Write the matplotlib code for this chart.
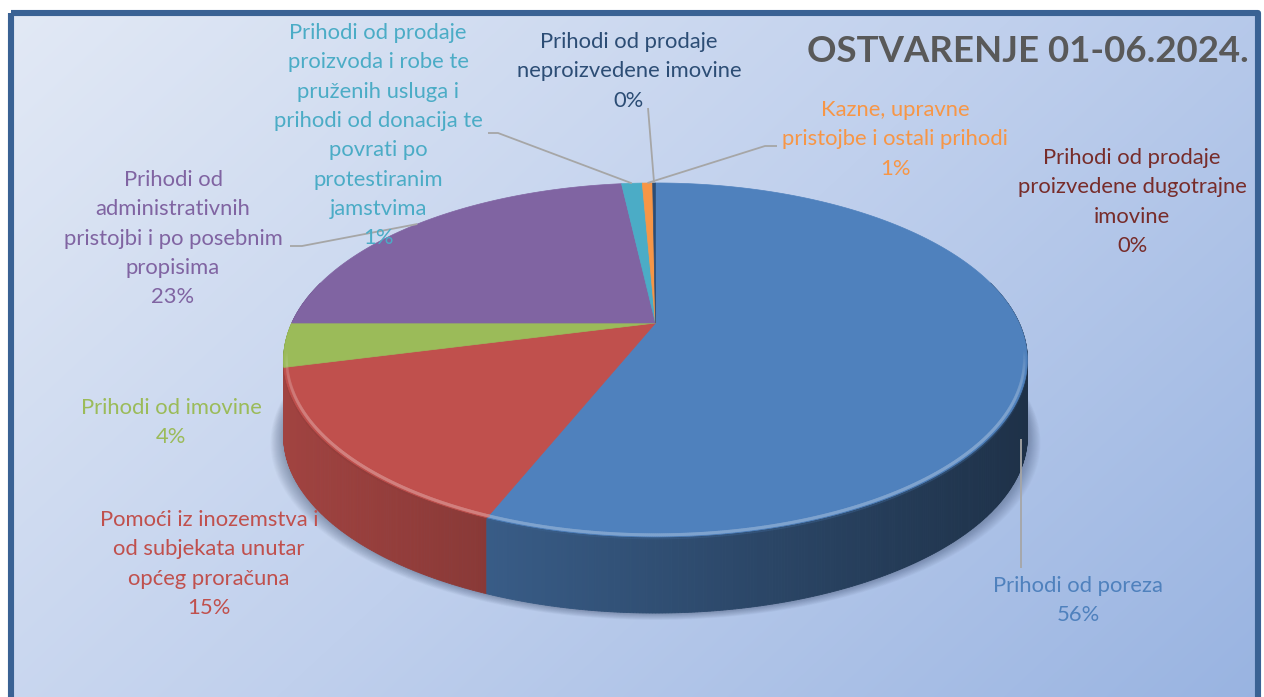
import numpy as np
import matplotlib
matplotlib.use("Agg")
import matplotlib.pyplot as plt
from matplotlib.patches import Polygon, Rectangle
from matplotlib.collections import LineCollection
from matplotlib.colors import to_rgb

# ---------------- data ----------------
categories = [
    "Prihodi od poreza",
    "Pomoći iz inozemstva i od subjekata unutar općeg proračuna",
    "Prihodi od imovine",
    "Prihodi od administrativnih pristojbi i po posebnim propisima",
    "Prihodi od prodaje proizvoda i robe te pruženih usluga i prihodi od donacija te povrati po protestiranim jamstvima",
    "Kazne, upravne pristojbe i ostali prihodi",
    "Prihodi od prodaje neproizvedene imovine",
    "Prihodi od prodaje proizvedene dugotrajne imovine",
]
values = [56.1, 14.9, 4.0, 23.2, 1.1, 0.55, 0.15, 0.0]
colors = ["#4F81BD", "#C0504D", "#9BBB59", "#8064A2",
          "#4BACC6", "#F79646", "#2C4D75", "#772C2A"]
label_lines = [
    ["Prihodi od poreza"],
    ["Pomoći iz inozemstva i", "od subjekata unutar", "općeg proračuna"],
    ["Prihodi od imovine"],
    ["Prihodi od", "administrativnih", "pristojbi i po posebnim", "propisima"],
    ["Prihodi od prodaje", "proizvoda i robe te", "pruženih usluga i",
     "prihodi od donacija te", "povrati po", "protestiranim", "jamstvima"],
    ["Kazne, upravne", "pristojbe i ostali prihodi"],
    ["Prihodi od prodaje", "neproizvedene imovine"],
    ["Prihodi od prodaje", "proizvedene dugotrajne", "imovine"],
]
title = "OSTVARENJE 01-06.2024."

# ---------------- layout ----------------
W, H = 1264, 697
label_pos = [(1078, 586), (209, 520), (171, 408), (173, 180),
             (378, 33), (895, 110), (629, 42), (1132, 158)]
line_pitch = 29.3
# leader line label-side points (None = no leader)
leader_ends = [[(None, 568)], None, None, [(302, 246), (290, 246)],
               [(498, 133), (488, 133)], [(765, 146), (777, 146)],
               [(648, 108)], None]

FONT = ["Lato", "DejaVu Sans"]
plt.rcParams["font.family"] = FONT

fig = plt.figure(figsize=(W / 100, H / 100), dpi=100)
ax = fig.add_axes([0, 0, 1, 1])
ax.set_xlim(0, W)
ax.set_ylim(H, 0)
ax.axis("off")
fig.patch.set_facecolor("white")

# background gradient inside frame
bx0, by0, bx1, by1 = 11, 13, 1258, 720
gx = np.linspace(0, 1, 400)
gy = np.linspace(0, 1, 240)
GX, GY = np.meshgrid(gx, gy)
t = (GX * 0.62 + GY * 0.38)
c0 = np.array([226, 233, 245]) / 255
c1 = np.array([192, 208, 237]) / 255
c2 = np.array([152, 179, 225]) / 255
img = np.where(t[..., None] < 0.5,
               c0 + (c1 - c0) * (t[..., None] / 0.5),
               c1 + (c2 - c1) * ((t[..., None] - 0.5) / 0.5))
ax.imshow(img, extent=[bx0, bx1, by1, by0], aspect="auto", zorder=0,
          interpolation="bilinear")
ax.add_patch(Rectangle((bx0, by0), bx1 - bx0, by1 - by0, fill=False,
                       edgecolor="#3A6294", linewidth=4.4, zorder=20,
                       joinstyle="round"))

# ---------------- 3D pie geometry ----------------
cx, cy, A, B, k, depth = 655.5, 323.0, 363.7, 169.3, 0.209, 76.0


def proj(th, r=1.0):
    x = r * np.sin(th)
    y = -r * np.cos(th)
    w = 1 - k * y
    return cx + A * x / w, cy + B * y / w


vals = np.array(values, dtype=float)
frac = vals / vals.sum()
edges = np.concatenate([[0], np.cumsum(frac)]) * 2 * np.pi
mids = (edges[:-1] + edges[1:]) / 2

# soft drop shadow
ths = np.linspace(0, 2 * np.pi, 400)
for d in range(14, 0, -1):
    px, py = proj(ths)
    sx = cx + (px - cx) * (1 + d / 400)
    sy = py + depth + d * 0.5
    ax.add_patch(Polygon(np.column_stack([sx, sy]), closed=True,
                         facecolor="#1c2c4c", edgecolor="none",
                         alpha=0.028, zorder=2))

# walls
segs = []
for i, v in enumerate(vals):
    if v <= 0:
        continue
    t0, t1 = edges[i], edges[i + 1]
    n = max(2, int((t1 - t0) / (2 * np.pi) * 900) + 2)
    tt = np.linspace(t0, t1, n)
    base = np.array(to_rgb(colors[i]))
    for a, b in zip(tt[:-1], tt[1:]):
        ym = -np.cos((a + b) / 2)
        if ym < -0.25:
            continue
        xa, ya = proj(a)
        xb, yb = proj(b)
        xm = (xa + xb) / 2
        f = 0.84 - 0.46 * (xm - 283) / 745
        f = float(np.clip(f, 0.36, 0.86))
        col = np.clip(base * f, 0, 1)
        poly = [(xa, ya), (xb, yb), (xb, yb + depth), (xa, ya + depth)]
        segs.append((ym, poly, col))
segs.sort(key=lambda s: s[0])
for ym, poly, col in segs:
    ax.add_patch(Polygon(poly, closed=True, facecolor=col, edgecolor=col,
                         linewidth=0.6, zorder=3))

# top faces
for i, v in enumerate(vals):
    if v <= 0:
        continue
    t0, t1 = edges[i], edges[i + 1]
    n = max(2, int((t1 - t0) / (2 * np.pi) * 720) + 2)
    tt = np.linspace(t0, t1, n)
    px, py = proj(tt)
    pts = np.vstack([[cx, cy], np.column_stack([px, py])])
    ax.add_patch(Polygon(pts, closed=True, facecolor=colors[i],
                         edgecolor=colors[i], linewidth=0.5, zorder=5))
    # rim highlight on front
    base = np.array(to_rgb(colors[i]))
    light = base + (1 - base) * 0.28
    tt2 = np.linspace(t0, t1, n * 2)
    lx, ly = proj(tt2, 0.992)
    pts2 = np.column_stack([lx, ly])
    lines = np.stack([pts2[:-1], pts2[1:]], axis=1)
    ymid = -np.cos((tt2[:-1] + tt2[1:]) / 2)
    al = np.clip((ymid - 0.15) / 0.5, 0, 1) * 0.85
    cols = [(*light, a) for a in al]
    ax.add_collection(LineCollection(lines, colors=cols, linewidths=2.2,
                                     zorder=6, capstyle="round"))
    dx, dy = proj(tt2, 1.0)
    pts3 = np.column_stack([dx, dy + 1.5])
    lines3 = np.stack([pts3[:-1], pts3[1:]], axis=1)
    dark = base * 0.75
    cols3 = [(*dark, a * 0.6) for a in al]
    ax.add_collection(LineCollection(lines3, colors=cols3, linewidths=1.2,
                                     zorder=4))

# ---------------- leader lines ----------------
for i, le in enumerate(leader_ends):
    if le is None:
        continue
    sx, sy = proj(mids[i])
    if -np.cos(mids[i]) > 0:
        sy += depth + 6
        sx -= 6
    pts = [(sx, sy)]
    for (ex, ey) in le:
        pts.append((sx if ex is None else ex, ey))
    xs, ys = zip(*pts)
    ax.plot(xs, ys, color="#A6A6A6", linewidth=1.3, zorder=7,
            solid_capstyle="butt")

# ---------------- labels ----------------
for i, lines in enumerate(label_lines):
    x0, y0 = label_pos[i]
    pct = "%.0f%%" % (frac[i] * 100)
    for j, s in enumerate(lines + [pct]):
        ax.text(x0, y0 + j * line_pitch, s, ha="center", va="center",
                color=colors[i], fontsize=15.8, zorder=8)

ax.text(1249, 52, title, ha="right", va="center", fontsize=26.4,
        fontweight="bold", color="#595959", zorder=8)

fig.savefig("out.png", dpi=100, facecolor="white")
